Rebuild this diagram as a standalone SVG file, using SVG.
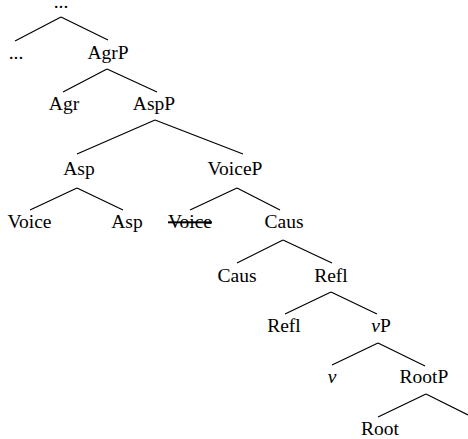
<svg xmlns="http://www.w3.org/2000/svg" width="468" height="439" viewBox="0 0 468 439">
<style>
text{font-family:"Liberation Serif","Times New Roman",serif;font-size:19.5px;fill:#000;text-anchor:middle}
.e line{stroke:#000;stroke-width:1.2}
.it{font-style:italic}
</style>
<rect width="468" height="439" fill="#fff"/>
<g class="e" id="connectors">
<line x1="61" y1="17" x2="15" y2="41"/><line x1="61" y1="17" x2="108" y2="40"/>
<line x1="107" y1="69" x2="63" y2="92"/><line x1="107" y1="69" x2="157" y2="92"/>
<line x1="155" y1="120" x2="77" y2="154"/><line x1="155" y1="120" x2="243" y2="154"/>
<line x1="77" y1="188" x2="30" y2="210"/><line x1="77" y1="188" x2="123" y2="210"/>
<line x1="237" y1="188" x2="190" y2="210"/><line x1="237" y1="188" x2="280" y2="210"/>
<line x1="283" y1="240" x2="237" y2="263"/><line x1="283" y1="240" x2="332" y2="263"/>
<line x1="331" y1="292" x2="285" y2="314"/><line x1="331" y1="292" x2="377" y2="314"/>
<line x1="378" y1="343" x2="332" y2="365"/><line x1="378" y1="343" x2="425" y2="366"/>
<line x1="426" y1="394" x2="378" y2="417"/><line x1="426" y1="394" x2="468" y2="415"/>
</g>
<g id="n-top"><text x="61" y="8">...</text></g>
<g id="n-dots"><text x="16" y="59">...</text></g>
<g id="n-AgrP"><text x="108" y="59">AgrP</text></g>
<g id="n-Agr"><text x="64" y="110">Agr</text></g>
<g id="n-AspP"><text x="154" y="110">AspP</text></g>
<g id="n-Asp"><text x="79" y="175">Asp</text></g>
<g id="n-VoiceP"><text x="235" y="175">VoiceP</text></g>
<g id="n-Voice"><text x="29.5" y="228">Voice</text></g>
<g id="n-Asp2"><text x="127" y="228">Asp</text></g>
<g id="n-Voice2"><text x="190" y="228" text-decoration="line-through">Voice</text></g>
<g id="n-Caus"><text x="284" y="228">Caus</text></g>
<g id="n-Caus2"><text x="237" y="282">Caus</text></g>
<g id="n-Refl"><text x="331" y="282">Refl</text></g>
<g id="n-Refl2"><text x="284" y="332">Refl</text></g>
<g id="n-vP"><text x="381" y="332"><tspan class="it">v</tspan>P</text></g>
<g id="n-v"><text x="332" y="383" class="it">v</text></g>
<g id="n-RootP"><text x="424" y="383">RootP</text></g>
<g id="n-Root"><text x="380" y="435">Root</text></g>
</svg>
